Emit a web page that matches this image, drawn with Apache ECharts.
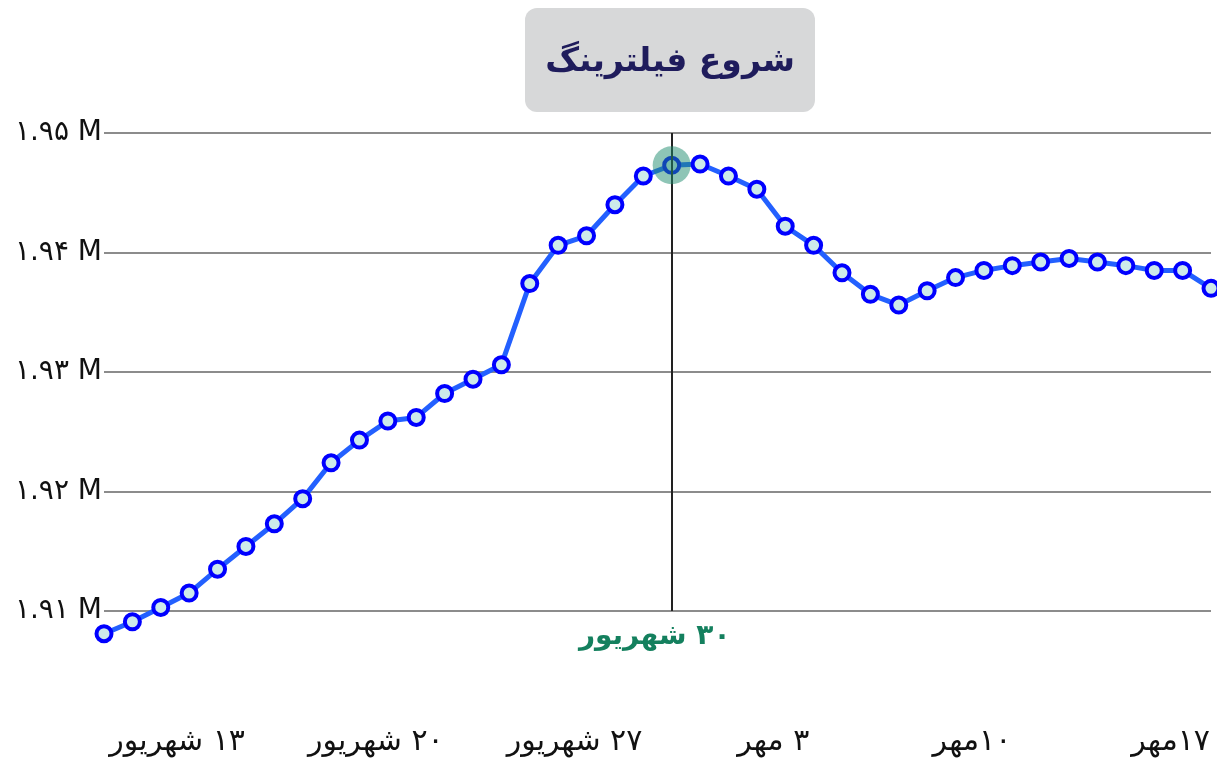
<!DOCTYPE html>
<html>
<head>
<meta charset="utf-8">
<script src="https://cdn.jsdelivr.net/npm/echarts@6/dist/echarts.min.js"></script>
<style>
  html, body { margin: 0; padding: 0; background: #fff; }
  #chart { width: 1217px; height: 758px; }
</style>
</head>
<body>
<div id="chart"></div>
<script>
// روزها: ۱۰ شهریور تا ۱۸ مهر
const categories = [
  "۱۰ شهریور", "۱۱ شهریور", "۱۲ شهریور", "۱۳ شهریور", "۱۴ شهریور", "۱۵ شهریور",
  "۱۶ شهریور", "۱۷ شهریور", "۱۸ شهریور", "۱۹ شهریور", "۲۰ شهریور", "۲۱ شهریور",
  "۲۲ شهریور", "۲۳ شهریور", "۲۴ شهریور", "۲۵ شهریور", "۲۶ شهریور", "۲۷ شهریور",
  "۲۸ شهریور", "۲۹ شهریور", "۳۰ شهریور", "۳۱ شهریور",
  "۱ مهر", "۲ مهر", "۳ مهر", "۴ مهر", "۵ مهر", "۶ مهر", "۷ مهر", "۸ مهر", "۹ مهر",
  "۱۰مهر", "۱۱ مهر", "۱۲ مهر", "۱۳ مهر", "۱۴ مهر", "۱۵ مهر", "۱۶ مهر", "۱۷مهر", "۱۸ مهر"
];
const users = [
  1908100, 1909100, 1910300, 1911500, 1913500, 1915400, 1917300, 1919400,
  1922400, 1924300, 1925900, 1926200, 1928200, 1929400, 1930600, 1937400,
  1940600, 1941400, 1944000, 1946400, 1947300, 1947400, 1946400, 1945300,
  1942200, 1940600, 1938300, 1936500, 1935600, 1936800, 1937900, 1938500,
  1938900, 1939200, 1939500, 1939200, 1938900, 1938500, 1938500, 1937000
];
const tickLabels = ["۱۳ شهریور", "۲۰ شهریور", "۲۷ شهریور", "۳ مهر", "۱۰مهر", "۱۷مهر"];
const filterDay = "۳۰ شهریور";
const titleText = "شروع فیلترینگ";

const FONT = '"DejaVu Sans", "Noto Sans", sans-serif';
const faDigits = (s) => String(s).replace(/[0-9]/g, (d) => "۰۱۲۳۴۵۶۷۸۹"[d]);

const chart = echarts.init(document.getElementById("chart"));
const filterIdx = categories.indexOf(filterDay);

chart.setOption({
  animation: false,
  grid: { left: 104, right: 6, top: 133, bottom: 147 },
  xAxis: {
    type: "category",
    data: categories,
    boundaryGap: false,
    axisLine: { show: false },
    axisTick: { show: false },
    axisLabel: {
      interval: (i, v) => tickLabels.includes(v),
      formatter: (v) => "\u200F" + v,
      margin: 116,
      fontFamily: FONT,
      fontSize: 30,
      color: "#111",
      padding: [0, 24, 0, 0],
    },
  },
  yAxis: {
    type: "value",
    min: 1910000,
    max: 1950000,
    interval: 10000,
    axisLine: { show: false },
    axisTick: { show: false },
    splitLine: { lineStyle: { color: "#666", width: 1.5 } },
    axisLabel: {
      formatter: (v) => faDigits((v / 1e6).toFixed(2)) + " M",
      margin: 2,
      fontFamily: FONT,
      fontSize: 28,
      color: "#111",
    },
  },
  series: [
    {
      type: "line",
      data: users,
      clip: false,
      symbol: "circle",
      symbolSize: 15,
      lineStyle: { color: "#2360ff", width: 5 },
      itemStyle: { color: "#cdeaea", borderColor: "#0000ff", borderWidth: 4 },
      markLine: {
        silent: true,
        symbol: ["none", "none"],
        lineStyle: { color: "#222", width: 2, type: "solid" },
        label: {
          position: "start",
          distance: 12,
          formatter: "\u200F" + filterDay,
          fontFamily: FONT,
          fontSize: 28,
          fontWeight: "bold",
          color: "#14805e",
          padding: [0, 34, 0, 0],
        },
        data: [{ xAxis: filterDay }],
      },
      markPoint: {
        silent: true,
        symbol: "circle",
        symbolSize: 38,
        label: { show: false },
        itemStyle: { color: "rgba(30, 140, 110, 0.5)" },
        data: [{ coord: [filterDay, users[filterIdx]] }],
      },
    },
  ],
  graphic: [
    {
      type: "group",
      left: 525,
      top: 8,
      children: [
        {
          type: "rect",
          shape: { x: 0, y: 0, width: 290, height: 104, r: 12 },
          style: { fill: "#d7d8d9" },
        },
        {
          type: "text",
          style: {
            x: 145,
            y: 54,
            text: titleText,
            align: "center",
            verticalAlign: "middle",
            fontFamily: FONT,
            fontSize: 33,
            fontWeight: "bold",
            fill: "#1f1c5c",
          },
        },
      ],
    },
  ],
});
</script>
</body>
</html>
